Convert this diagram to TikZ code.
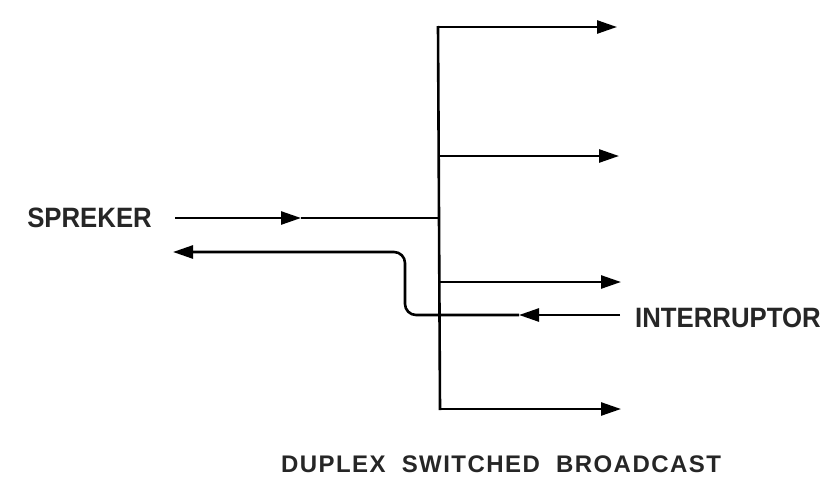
\documentclass[tikz,border=0pt]{standalone}
\usepackage{fontspec}
\setmainfont{Liberation Sans}
\newfontfamily\capfont[LetterSpace=6,WordSpace=2]{Liberation Sans}
\usetikzlibrary{arrows.meta}
\begin{document}
\begin{tikzpicture}[x=1pt,y=-1pt,
  wire/.style={line width=2.6pt},
  tip/.style={-{Triangle[length=20pt,width=13pt]}},
  lbl/.style={font=\bfseries\fontsize{28}{30}\selectfont, inner sep=0pt, text=black!85}]
\useasboundingbox[fill=white] (0,0) rectangle (826,479);
% coordinates
\coordinate (bt) at (438,26);
\coordinate (bb) at (440,410);
\coordinate (j) at (439,218);
\coordinate (b1) at (438,27);   \coordinate (e1) at (617,27);
\coordinate (b2) at (439,156);  \coordinate (e2) at (619,156);
\coordinate (b3) at (440,282);  \coordinate (e3) at (621,282);
\coordinate (b4) at (440,409);  \coordinate (e4) at (621,409);
\coordinate (s0) at (175,218);  \coordinate (sm) at (301,218);
\coordinate (r0) at (173,252);  \coordinate (rc1) at (405,252);
\coordinate (rc2) at (405,315); \coordinate (i0) at (620,315);
\coordinate (im) at (519,315);
% labels
\node[lbl, anchor=east] (spk) at (152,218) {\scalebox{0.92}[1]{SPREKER}};
\node[lbl, anchor=west] (int) at (635,318) {\scalebox{0.92}[1]{INTERRUPTOR}};
\node[lbl, font=\capfont\bfseries\fontsize{24}{28}\selectfont] (cap) at (501,464) {DUPLEX SWITCHED BROADCAST};
% bus
\draw[wire] (bt) -- (bb);
\draw[wire,tip] (b1) -- (e1);
\draw[wire,tip] (b2) -- (e2);
\draw[wire,tip] (b3) -- (e3);
\draw[wire,tip] (b4) -- (e4);
% speaker in
\draw[wire,tip] (s0) -- (sm);
\draw[wire] (sm) -- (j);
% interruptor to speaker
\draw[wire,tip] (i0) -- (im);
\draw[wire,tip,rounded corners=11pt] (im) -- (rc2) -- (rc1) -- (r0);
\end{tikzpicture}
\end{document}
